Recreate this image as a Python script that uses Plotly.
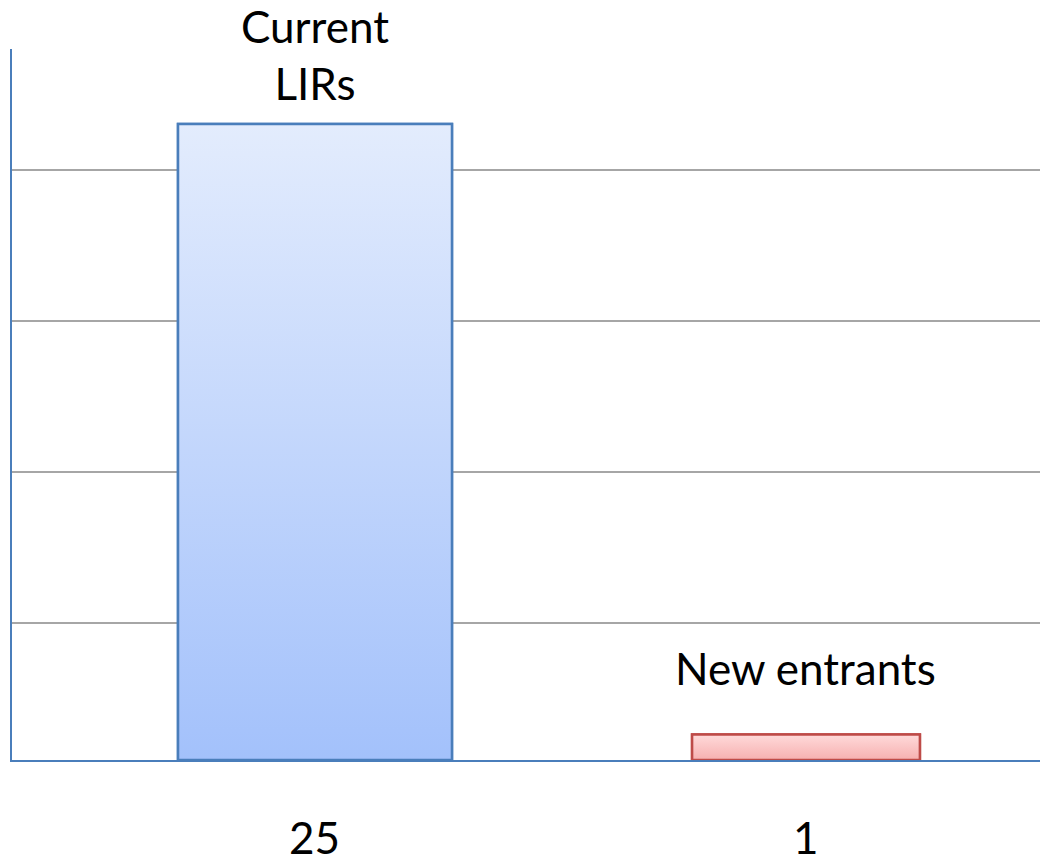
import plotly.graph_objects as go

# Chart data
categories = ["Current LIRs", "New entrants"]
counts = [25, 1]
count_labels = ["25", "1"]

# Styling per bar
bar_widths = [0.558, 0.464]
edge_colors = ["#4a7ebb", "#be4b48"]
grad_bottom = ["#a3c1fb", "#f6b0b0"]
grad_top = ["#e3ecfd", "#ffdada"]
mid_fill = ["#c3d6fc", "#fbc6c6"]

FONT = "Lato"
FONT_SIZE = 44
positions = list(range(len(categories)))

fig = go.Figure()

# Base bars (outline + flat fill)
fig.add_trace(go.Bar(
    x=positions, y=counts, width=bar_widths,
    marker=dict(color=mid_fill, line=dict(color=edge_colors, width=2.5)),
    hoverinfo="skip", showlegend=False,
))

# Vertical gradient fill over each bar, derived from the same values
for i, (pos, val) in enumerate(zip(positions, counts)):
    half = bar_widths[i] / 2
    fig.add_trace(go.Scatter(
        x=[pos - half, pos - half, pos + half, pos + half, pos - half],
        y=[0, val, val, 0, 0],
        mode="lines", fill="toself",
        line=dict(color=edge_colors[i], width=2.5),
        fillgradient=dict(type="vertical", start=0, stop=val,
                          colorscale=[[0, grad_bottom[i]], [1, grad_top[i]]]),
        hoverinfo="skip", showlegend=False,
    ))

# Category names above bars
fig.add_annotation(x=positions[0], y=counts[0], text="Current<br>LIRs",
                   showarrow=False, yanchor="bottom", yshift=13,
                   font=dict(family=FONT, size=FONT_SIZE, color="#000000"))
fig.add_annotation(x=positions[1], y=counts[1], text=categories[1],
                   showarrow=False, yanchor="bottom", yshift=39,
                   font=dict(family=FONT, size=FONT_SIZE, color="#000000"))

# Count labels beneath the axis
for pos, lab in zip(positions, count_labels):
    fig.add_annotation(x=pos, y=0, text=lab, showarrow=False,
                       yanchor="bottom", yshift=-105,
                       font=dict(family=FONT, size=FONT_SIZE, color="#000000"))

fig.update_layout(
    width=1040, height=866,
    margin=dict(l=12, r=0, t=49, b=106),
    paper_bgcolor="white", plot_bgcolor="white",
    showlegend=False,
    xaxis=dict(range=[-0.6171, 1.4766], showticklabels=False, ticks="",
               showgrid=False, zeroline=False,
               showline=True, linecolor="#4a7ebb", linewidth=2),
    yaxis=dict(range=[0, 27.95], showticklabels=False, ticks="",
               tick0=5.39, dtick=5.935,
               showgrid=True, gridcolor="#a6a6a6", gridwidth=2,
               zeroline=False,
               showline=True, linecolor="#4a7ebb", linewidth=2),
)

fig.write_html("out.html")
